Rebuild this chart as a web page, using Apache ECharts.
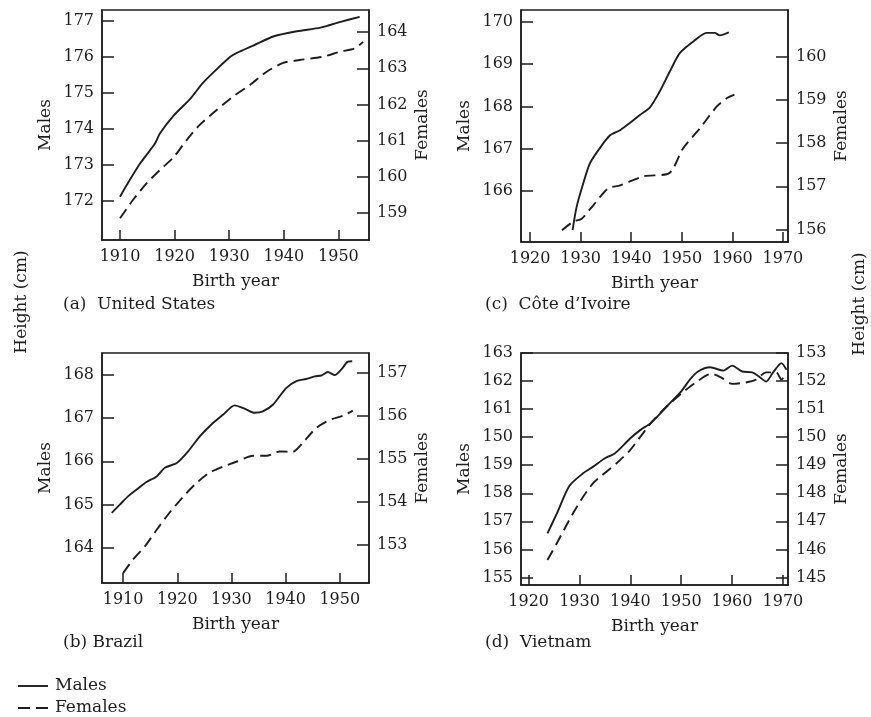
<!DOCTYPE html>
<html>
<head>
<meta charset="utf-8">
<script src="https://cdn.jsdelivr.net/npm/echarts@6/dist/echarts.min.js"></script>
<style>
html,body{margin:0;padding:0;background:#fff;}
#chart{width:871px;height:717px;}
</style>
</head>
<body>
<div id="chart"></div>
<script>
// ---------- DATA ----------
// (a) United States
const usMaleYears   = [1910, 1911.2, 1913.7, 1916.4, 1917.3, 1919.9, 1922.9, 1925.1, 1927.2, 1930.2, 1931.4, 1934.5, 1938.2, 1942.4, 1946.7, 1950.4, 1953.9];
const usMaleValues  = [172.12, 172.44, 173.05, 173.6, 173.88, 174.39, 174.85, 175.27, 175.59, 176.01, 176.12, 176.33, 176.58, 176.72, 176.82, 176.98, 177.12];
const usFemaleYears = [1910, 1912.4, 1914.9, 1917.3, 1919.9, 1922.2, 1924.6, 1927.7, 1930.7, 1933.8, 1936.8, 1939.9, 1942.9, 1947.2, 1950.3, 1953.0, 1954.5];
const usFemaleValues= [158.86, 159.37, 159.83, 160.19, 160.56, 161.02, 161.44, 161.85, 162.22, 162.54, 162.9, 163.15, 163.23, 163.32, 163.46, 163.55, 163.73];

// (c) Côte d'Ivoire
const ciMaleYears   = [1928.4, 1929.2, 1930.5, 1931.8, 1933.5, 1935.8, 1937.8, 1939.7, 1941.7, 1943.7, 1945.6, 1947.6, 1949.6, 1952.2, 1954.9, 1956.5, 1957.5, 1959.3];
const ciMaleValues  = [165.08, 165.63, 166.18, 166.65, 166.97, 167.32, 167.44, 167.61, 167.8, 167.98, 168.35, 168.82, 169.26, 169.53, 169.74, 169.74, 169.68, 169.75];
const ciFemaleYears = [1926.3, 1928.5, 1930.2, 1932.5, 1935.4, 1937.8, 1942.4, 1947.6, 1950.2, 1953.5, 1956.8, 1958.8, 1960.4];
const ciFemaleValues= [155.98, 156.18, 156.25, 156.56, 156.95, 157.02, 157.23, 157.31, 157.87, 158.33, 158.83, 159.03, 159.12];

// (b) Brazil
const brMaleYears   = [1907.9, 1909.4, 1910.9, 1912.5, 1914.3, 1916.2, 1917.7, 1919.9, 1922.0, 1924.2, 1926.3, 1928.5, 1930.6, 1932.5, 1934.3, 1935.8, 1937.7, 1940.1, 1942.0, 1943.8, 1945.4, 1946.6, 1947.8, 1949.1, 1950.3, 1951.5, 1952.3];
const brMaleValues  = [164.81, 165.0, 165.19, 165.35, 165.52, 165.65, 165.85, 165.96, 166.23, 166.58, 166.85, 167.08, 167.29, 167.21, 167.12, 167.15, 167.31, 167.69, 167.85, 167.9, 167.96, 167.98, 168.06, 167.99, 168.12, 168.3, 168.31];
const brFemaleYears = [1910.0, 1911.8, 1914.0, 1916.2, 1918.6, 1921.1, 1923.5, 1926.0, 1928.5, 1930.9, 1934.0, 1936.5, 1938.9, 1941.3, 1943.1, 1945.6, 1948.1, 1950.6, 1952.4];
const brFemaleValues= [152.35, 152.66, 152.97, 153.36, 153.76, 154.13, 154.44, 154.69, 154.83, 154.94, 155.08, 155.08, 155.18, 155.17, 155.37, 155.72, 155.91, 156.01, 156.13];

// (d) Vietnam
const vnMaleYears   = [1923.7, 1925.7, 1928.0, 1930.7, 1932.7, 1935.0, 1937.0, 1940.0, 1942.0, 1944.0, 1947.3, 1950.0, 1951.7, 1953.3, 1955.7, 1958.3, 1960.0, 1962.0, 1964.0, 1965.3, 1966.7, 1968.0, 1969.7, 1970.7];
const vnMaleValues  = [156.57, 157.34, 158.26, 158.71, 158.95, 159.25, 159.43, 159.96, 160.26, 160.5, 161.12, 161.63, 162.05, 162.34, 162.49, 162.37, 162.55, 162.34, 162.31, 162.16, 161.98, 162.29, 162.64, 162.4];
const vnFemaleYears = [1923.7, 1925.7, 1928.0, 1930.3, 1932.7, 1935.3, 1937.3, 1940.0, 1942.0, 1944.3, 1947.3, 1950.0, 1952.7, 1956.0, 1958.0, 1960.0, 1962.7, 1964.7, 1966.7, 1968.7, 1969.7, 1970.7];
const vnFemaleValues= [145.62, 146.27, 147.05, 147.76, 148.36, 148.77, 149.07, 149.55, 150.02, 150.56, 151.12, 151.55, 151.93, 152.26, 152.11, 151.9, 151.95, 152.05, 152.31, 152.31, 152.05, 152.29];

// tick values
const usXTicks = [1910, 1920, 1930, 1940, 1950];
const usMaleTicks = [172, 173, 174, 175, 176, 177];
const usFemaleTicks = [159, 160, 161, 162, 163, 164];
const ciXTicks = [1920, 1930, 1940, 1950, 1960, 1970];
const ciMaleTicks = [166, 167, 168, 169, 170];
const ciFemaleTicks = [156, 157, 158, 159, 160];
const brXTicks = [1910, 1920, 1930, 1940, 1950];
const brMaleTicks = [164, 165, 166, 167, 168];
const brFemaleTicks = [153, 154, 155, 156, 157];
const vnXTicks = [1920, 1930, 1940, 1950, 1960, 1970];
const vnMaleTicks = [155, 156, 157, 158, 159, 160, 161, 162, 163];
const vnMaleTickLabels = ['155', '156', '157', '158', '159', '150', '161', '162', '163'];
const vnFemaleTicks = [145, 146, 147, 148, 149, 150, 151, 152, 153];

const panelCaptions = ['(a)  United States', '(c)  Côte d\u2019Ivoire', '(b) Brazil', '(d)  Vietnam'];
const seriesNames = ['Males', 'Females'];

// ---------- STYLE ----------
const FONT = '"DejaVu Serif", "Liberation Serif", serif';
const INK = '#1e1e1e';

function pairs(xs, ys) { return xs.map((x, i) => [x, ys[i]]); }

const panels = [
  { grid: {left: 102, top: 10, width: 267, height: 230}, x: [1906.7, 1955.6], yl: [170.92, 177.31], yr: [158.26, 164.61],
    xt: usXTicks, ylt: usMaleTicks, yrt: usFemaleTicks, m: pairs(usMaleYears, usMaleValues), f: pairs(usFemaleYears, usFemaleValues) },
  { grid: {left: 521, top: 10, width: 267, height: 232}, x: [1918.2, 1971.0], yl: [164.80, 170.28], yr: [155.71, 161.08],
    xt: ciXTicks, ylt: ciMaleTicks, yrt: ciFemaleTicks, m: pairs(ciMaleYears, ciMaleValues), f: pairs(ciFemaleYears, ciFemaleValues) },
  { grid: {left: 102, top: 353, width: 267, height: 230}, x: [1906.1, 1955.4], yl: [163.19, 168.5], yr: [152.12, 157.47],
    xt: brXTicks, ylt: brMaleTicks, yrt: brFemaleTicks, m: pairs(brMaleYears, brMaleValues), f: pairs(brFemaleYears, brFemaleValues) },
  { grid: {left: 521, top: 353, width: 267, height: 232}, x: [1918.5, 1971.0], yl: [154.73, 163.0], yr: [144.73, 153.0],
    xt: vnXTicks, ylt: vnMaleTicks, yrt: vnFemaleTicks, ylLabels: vnMaleTickLabels, m: pairs(vnMaleYears, vnMaleValues), f: pairs(vnFemaleYears, vnFemaleValues) }
];

const grid = [], xAxis = [], yAxis = [], series = [];
const axisLine = { show: true, lineStyle: { color: INK, width: 1.5 } };
const labelStyle = { color: INK, fontFamily: FONT, fontSize: 16 };
const nameStyle = { color: INK, fontFamily: FONT, fontSize: 17 };
const FEMALE_DASH = [11, 6];

panels.forEach((p, i) => {
  grid.push(Object.assign({ show: true, borderColor: INK, borderWidth: 1.5, containLabel: false }, p.grid));
  xAxis.push({
    type: 'value', gridIndex: i, min: p.x[0], max: p.x[1],
    name: 'Birth year', nameLocation: 'middle', nameGap: 33, nameTextStyle: nameStyle,
    axisLine: axisLine, splitLine: { show: false },
    axisTick: { inside: true, length: 10, lineStyle: { color: INK, width: 1.5 }, customValues: p.xt },
    axisLabel: Object.assign({ margin: 9, customValues: p.xt, formatter: v => String(Math.round(v)) }, labelStyle)
  });
  const ylLabels = p.ylLabels;
  yAxis.push({
    type: 'value', gridIndex: i, position: 'left', min: p.yl[0], max: p.yl[1],
    name: 'Males', nameLocation: 'middle', nameGap: 48, nameTextStyle: nameStyle,
    axisLine: axisLine, splitLine: { show: false },
    axisTick: { inside: true, length: 12, lineStyle: { color: INK, width: 1.5 }, customValues: p.ylt },
    axisLabel: Object.assign({ margin: 8, customValues: p.ylt,
      formatter: v => { const r = Math.round(v); if (ylLabels) { const k = p.ylt.indexOf(r); return ylLabels[k]; } return String(r); } }, labelStyle)
  });
  yAxis.push({
    type: 'value', gridIndex: i, position: 'right', min: p.yr[0], max: p.yr[1],
    name: 'Females', nameLocation: 'middle', nameGap: 45, nameTextStyle: nameStyle,
    axisLine: axisLine, splitLine: { show: false },
    axisTick: { inside: true, length: 12, lineStyle: { color: INK, width: 1.5 }, customValues: p.yrt },
    axisLabel: Object.assign({ margin: 8, customValues: p.yrt, formatter: v => String(Math.round(v)) }, labelStyle)
  });
  series.push({
    name: seriesNames[0], type: 'line', xAxisIndex: i, yAxisIndex: 2 * i, data: p.m,
    showSymbol: false, symbol: 'none', smooth: 0.25, lineStyle: { color: INK, width: 1.9, type: 'solid' }, itemStyle: { color: INK }
  });
  series.push({
    name: seriesNames[1], type: 'line', xAxisIndex: i, yAxisIndex: 2 * i + 1, data: p.f,
    showSymbol: false, symbol: 'none', smooth: 0.25, lineStyle: { color: INK, width: 1.9, type: FEMALE_DASH }, itemStyle: { color: INK }
  });
});

const captionPos = [[63, 306], [485, 306], [63, 644], [485, 644]];
const graphic = panelCaptions.map((t, i) => ({
  type: 'text', left: captionPos[i][0], top: captionPos[i][1] - 10,
  style: { text: t, fill: INK, font: '17px ' + FONT }
}));
graphic.push({ type: 'text', x: 22, y: 302, rotation: Math.PI / 2,
  style: { text: 'Height (cm)', fill: INK, font: '17px ' + FONT, align: 'center', verticalAlign: 'middle' } });
graphic.push({ type: 'text', x: 860, y: 304, rotation: Math.PI / 2,
  style: { text: 'Height (cm)', fill: INK, font: '17px ' + FONT, align: 'center', verticalAlign: 'middle' } });

// legend (key) drawn as lines + text
const legendRows = [686, 708];
seriesNames.forEach((n, k) => {
  graphic.push({ type: 'line', shape: { x1: 18, y1: legendRows[k], x2: 48, y2: legendRows[k] },
    style: { stroke: INK, lineWidth: 1.9, lineDash: k === 0 ? null : [12, 6] } });
  graphic.push({ type: 'text', x: 55, y: legendRows[k],
    style: { text: n, fill: INK, font: '17px ' + FONT, align: 'left', verticalAlign: 'middle' } });
});

const chart = echarts.init(document.getElementById('chart'), null, { renderer: 'canvas' });
chart.setOption({
  animation: false,
  backgroundColor: '#fff',
  grid, xAxis, yAxis, series, graphic
});
</script>
</body>
</html>
